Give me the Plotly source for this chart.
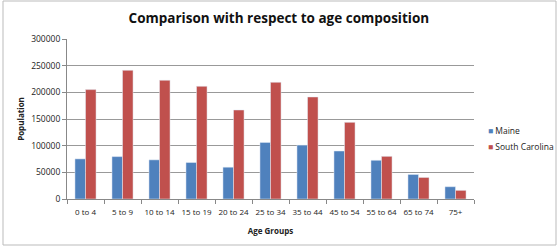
import plotly.graph_objects as go

age_groups = ["0 to 4", "5 to 9", "10 to 14", "15 to 19", "20 to 24", "25 to 34",
              "35 to 44", "45 to 54", "55 to 64", "65 to 74", "75+"]
maine = [75200, 79500, 73400, 68400, 59600, 106000, 101000, 90000, 72600, 46000, 23000]
south_carolina = [205100, 241300, 222600, 211300, 166900, 218800, 191300, 143800, 80000, 40400, 16200]
y_ticks = [0, 50000, 100000, 150000, 200000, 250000, 300000]
series_names = ["Maine", "South Carolina"]
series_colors = ["#4F81BD", "#C0504D"]

font_family = "Open Sans, Liberation Sans, sans-serif"

fig = go.Figure()
for name, vals, col in zip(series_names, [maine, south_carolina], series_colors):
    fig.add_trace(go.Bar(x=age_groups, y=vals, name=name, marker_color=col, showlegend=False))

fig.update_layout(
    width=560, height=250,
    margin=dict(l=67, r=86, t=39, b=51, autoexpand=False),
    paper_bgcolor="white", plot_bgcolor="white",
    barmode="group", bargap=0.43, bargroupgap=0,
    font=dict(family=font_family, size=8, color="#222"),
    title=dict(text="<b>Comparison with respect to age composition</b>",
               x=0.498, xanchor="center", y=0.928, yanchor="middle",
               font=dict(size=13.5, color="#111", family=font_family)),
    showlegend=False,
)
fig.update_xaxes(
    showline=True, linecolor="#888", linewidth=1,
    ticks="outside", ticklen=4, tickcolor="#888", tickson="boundaries",
    tickfont=dict(size=8), tickangle=0, ticklabelstandoff=5,
    title=dict(text="<b>Age Groups</b>", font=dict(size=8), standoff=12),
)
fig.update_yaxes(
    range=[0, 300000], tickvals=y_ticks, ticktext=[str(v) for v in y_ticks],
    showgrid=True, gridcolor="#999", gridwidth=1,
    showline=True, linecolor="#888", linewidth=1,
    ticks="outside", ticklen=4, tickcolor="#888",
    tickfont=dict(size=8.5), zeroline=False,
    title=dict(text="<b>Population</b>", font=dict(size=8), standoff=5),
)
# manual legend
leg_x = (486 - 67) / 407
for i, (name, col) in enumerate(zip(series_names, series_colors)):
    yy = (199 - (130 + 16 * i)) / 160
    fig.add_annotation(xref="paper", yref="paper", x=leg_x, y=yy,
                       xanchor="left", yanchor="middle", showarrow=False,
                       text=f"<span style='color:{col}'>■</span> {name}",
                       font=dict(size=8.5, color="#222"))
fig.add_shape(type="rect", xref="paper", yref="paper",
              x0=-64/407, x1=(556-67)/407, y0=-46/160, y1=198/160,
              line=dict(color="#BBB", width=1), fillcolor="rgba(0,0,0,0)")
fig.write_html("out.html")
